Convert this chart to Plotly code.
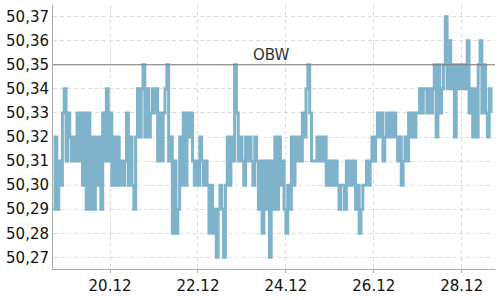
import pandas as pd
import plotly.graph_objects as go

start_time = "2023-12-18 17:00"
prices = [
    50.29, 50.32, 50.29, 50.31, 50.30, 50.33, 50.34, 50.31, 50.33, 50.32,
    50.31, 50.32, 50.31, 50.33, 50.31, 50.33, 50.30, 50.33, 50.29, 50.33,
    50.29, 50.32, 50.29, 50.32, 50.30, 50.32, 50.29, 50.33, 50.31, 50.34,
    50.31, 50.33, 50.30, 50.32, 50.30, 50.32, 50.30, 50.31, 50.30, 50.31,
    50.33, 50.30, 50.32, 50.30, 50.29, 50.32, 50.34, 50.32, 50.34, 50.35,
    50.32, 50.34, 50.32, 50.33, 50.34, 50.33, 50.34, 50.31, 50.33, 50.31,
    50.33, 50.34, 50.35, 50.31, 50.32, 50.28, 50.31, 50.28, 50.29, 50.32,
    50.30, 50.33, 50.30, 50.33, 50.32, 50.33, 50.31, 50.30, 50.31, 50.30,
    50.32, 50.31, 50.30, 50.31, 50.30, 50.28, 50.30, 50.28, 50.29, 50.27,
    50.29, 50.30, 50.29, 50.27, 50.30, 50.32, 50.30, 50.32, 50.31, 50.35,
    50.33, 50.31, 50.32, 50.31, 50.30, 50.32, 50.31, 50.32, 50.31, 50.30,
    50.32, 50.31, 50.29, 50.31, 50.28, 50.31, 50.29, 50.31, 50.27, 50.31,
    50.29, 50.32, 50.29, 50.32, 50.30, 50.31, 50.29, 50.28, 50.30, 50.29,
    50.32, 50.30, 50.32, 50.31, 50.32, 50.31, 50.33, 50.32, 50.34, 50.35,
    50.33, 50.31, 50.31, 50.31, 50.32, 50.31, 50.32, 50.31, 50.32, 50.30,
    50.31, 50.30, 50.31, 50.30, 50.31, 50.30, 50.29, 50.30, 50.30, 50.29,
    50.31, 50.30, 50.31, 50.30, 50.31, 50.29, 50.30, 50.28, 50.29, 50.30,
    50.30, 50.31, 50.30, 50.31, 50.32, 50.31, 50.32, 50.33, 50.32, 50.33,
    50.31, 50.32, 50.33, 50.32, 50.33, 50.32, 50.33, 50.32, 50.31, 50.32,
    50.30, 50.31, 50.32, 50.31, 50.33, 50.32, 50.33, 50.32, 50.33, 50.33,
    50.34, 50.33, 50.34, 50.34, 50.33, 50.34, 50.33, 50.34, 50.35, 50.32,
    50.35, 50.33, 50.34, 50.35, 50.37, 50.34, 50.36, 50.34, 50.35, 50.32,
    50.35, 50.34, 50.35, 50.34, 50.35, 50.34, 50.36, 50.33, 50.34, 50.32,
    50.34, 50.32, 50.35, 50.36, 50.33, 50.35, 50.33, 50.32, 50.34, 50.33,
]
obw_level = 50.35
obw_label = "OBW"
x_ticks = ["2023-12-20", "2023-12-22", "2023-12-24", "2023-12-26", "2023-12-28"]
y_ticks = [50.27, 50.28, 50.29, 50.30, 50.31, 50.32, 50.33, 50.34, 50.35, 50.36, 50.37]

times = pd.date_range(start_time, periods=len(prices), freq="h")

fig = go.Figure()
fig.add_trace(go.Scatter(
    x=times, y=prices, mode="lines",
    line=dict(color="#7eb3cb", width=3, shape="hv"),
    hoverinfo="skip", showlegend=False,
))

fig.add_hline(y=obw_level, line=dict(color="#7a7a7a", width=1))
fig.add_annotation(
    x=pd.Timestamp("2023-12-23 16:00"), y=obw_level, text=obw_label,
    showarrow=False, xanchor="center", yanchor="bottom", yshift=-1,
    font=dict(family="DejaVu Sans", size=15, color="#333333"),
)

fig.update_layout(
    width=500, height=300,
    margin=dict(l=53, r=5, t=5, b=23),
    paper_bgcolor="white", plot_bgcolor="white",
    separators=",.",
    font=dict(family="DejaVu Sans", size=15, color="#111111"),
)
fig.update_xaxes(
    range=[pd.Timestamp("2023-12-18 16:52"), pd.Timestamp("2023-12-28 18:10")],
    tickvals=pd.to_datetime(x_ticks), tickformat="%d.%m",
    showgrid=True, gridcolor="#dddddd", griddash="4px,3px", gridwidth=1,
    showline=True, linecolor="#aaaaaa", linewidth=1,
    ticks="outside", ticklen=3, tickcolor="#aaaaaa",
    zeroline=False,
)
fig.update_yaxes(
    range=[50.26516, 50.37484],
    tickvals=y_ticks, tickformat=".2f",
    showgrid=True, gridcolor="#dddddd", griddash="4px,3px", gridwidth=1,
    showline=True, linecolor="#aaaaaa", linewidth=1,
    ticks="", zeroline=False,
)

fig.write_html("out.html")
